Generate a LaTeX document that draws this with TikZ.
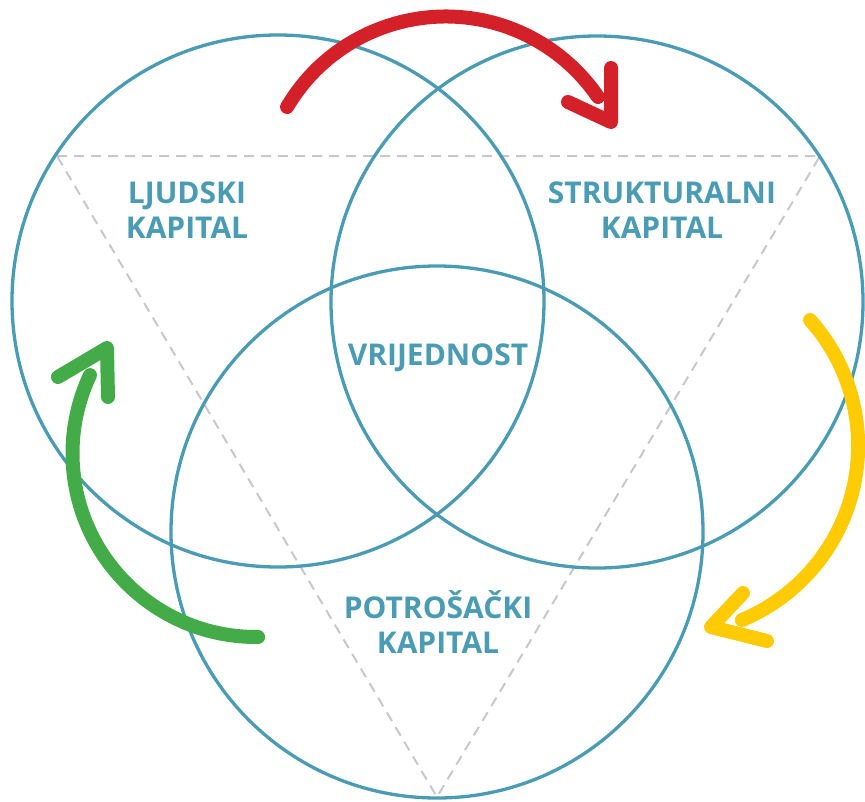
\documentclass[tikz,border=0pt]{standalone}
\usepackage{fontspec}
\setmainfont{Open Sans}
\definecolor{teal}{HTML}{4A9BB4}
\definecolor{dashgray}{HTML}{C8C8C8}
\definecolor{arrred}{HTML}{D32029}
\definecolor{arrgreen}{HTML}{43AC48}
\definecolor{arryellow}{HTML}{FFCB05}
\tikzset{
  ring/.style={circle, draw=teal, line width=3.3pt, minimum size=532pt, inner sep=0pt},
  guide/.style={draw=dashgray, line width=2pt, dash pattern=on 10pt off 7pt},
  lbl/.style={text=teal, font=\fontsize{30}{35}\selectfont\bfseries, align=center, inner sep=0pt},
  bigarrow/.style={line width=14pt, line cap=round, line join=round},
}
\begin{document}
\begin{tikzpicture}[x=1pt, y=-1pt]
\useasboundingbox (0,0) rectangle (865,801);
% guide triangle
\coordinate (tL) at (57,156);
\coordinate (tR) at (820,156);
\coordinate (tB) at (437,797);
\draw[guide] (tL) -- (tR) -- (tB) -- cycle;
% circles
\node[ring] (cL) at (278,301) {};
\node[ring] (cR) at (597,302) {};
\node[ring] (cB) at (437,532) {};
% labels
\node[lbl] (ljud) at (187,210) {LJUDSKI\\KAPITAL};
\node[lbl] (strk) at (662,210) {STRUKTURALNI\\KAPITAL};
\node[lbl] (vrij) at (438,358) {VRIJEDNOST};
\node[lbl] (potr) at (438,622) {POTROŠAČKI\\KAPITAL};
% arrow centres
\coordinate (rc) at (445.7,200.8);
\coordinate (gc) at (256.2,453.3);
\coordinate (yc) at (669.4,445.8);
% red arrow
\draw[bigarrow, arrred] (rc) ++(-149.4:184.3) arc[start angle=-149.4, end angle=-34.3, radius=184.3];
\coordinate (rh1) at (568,102);
\coordinate (rh2) at (611,122);
\coordinate (rh3) at (611,68);
\draw[bigarrow, arrred] (rh1) -- (rh2) -- (rh3);
% green arrow
\draw[bigarrow, arrgreen] (gc) ++(89.4:183.7) arc[start angle=89.4, end angle=205.2, radius=183.7];
\coordinate (gh1) at (58,377);
\coordinate (gh2) at (107,348);
\coordinate (gh3) at (108,397);
\draw[bigarrow, arrgreen] (gh1) -- (gh2) -- (gh3);
% yellow arrow
\draw[bigarrow, arryellow] (yc) ++(-41.8:188.7) arc[start angle=-41.8, end angle=67.4, radius=188.7];
\coordinate (yh1) at (743,593);
\coordinate (yh2) at (711,627);
\coordinate (yh3) at (767,641);
\draw[bigarrow, arryellow] (yh1) -- (yh2) -- (yh3);
\end{tikzpicture}
\end{document}
